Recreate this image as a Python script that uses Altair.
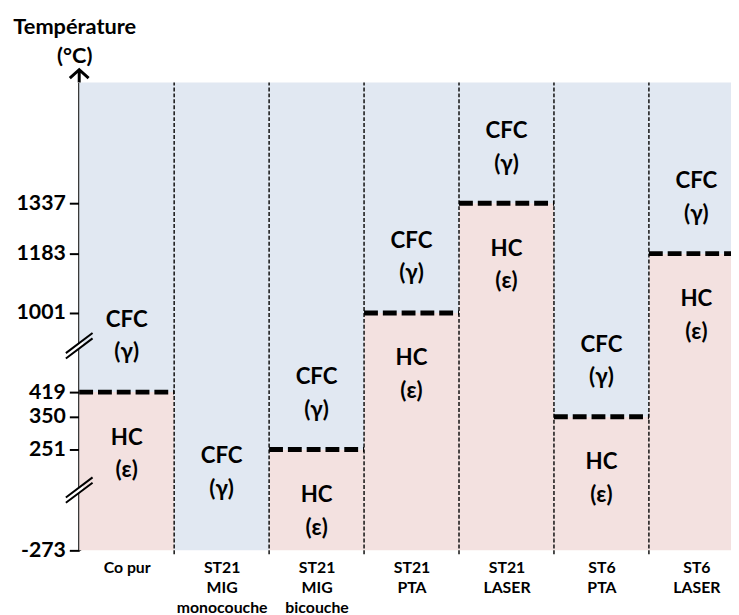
import json
import altair as alt
import pandas as pd

# ---------------- data ----------------
CATEGORIES = ["Co pur", "ST21\nMIG\nmonocouche", "ST21\nMIG\nbicouche",
              "ST21\nPTA", "ST21\nLASER", "ST6\nPTA", "ST6\nLASER"]
# HC (epsilon) -> CFC (gamma) transition temperature, -273 = CFC only
TRANSITION = [419, -273, 251, 1001, 1337, 350, 1183]
Y_TICKS = [-273, 251, 350, 419, 1001, 1183, 1337]
AXIS_BREAKS = [40, 760]
T_MIN = -273
T_TOP = 1720
LOW_LABEL = "HC\n(ε)"
HIGH_LABEL = "CFC\n(γ)"

# ---------------- layout / style ----------------
W, H = 659, 473
BAND = 96
Y_RANGE = [473, 371, 338, 313, 233, 173, 122, 0]   # broken (piecewise) axis
BLUE = "#E1E8F2"
PINK = "#F3E1E0"
FONT = "Lato"

df = pd.DataFrame({"idx": list(range(len(CATEGORIES))), "cat": CATEGORIES, "t": TRANSITION})
df["idx2"] = df["idx"] + 1
df["mid"] = df["idx"] + 0.5
df["tmin"] = T_MIN
df["ttop"] = T_TOP
df["hi"] = HIGH_LABEL
df["lo"] = LOW_LABEL

xs = alt.Scale(domain=[0, W / BAND], nice=False, zero=False)
ys = alt.Scale(domain=Y_TICKS + [T_TOP], range=Y_RANGE, nice=False, zero=False)

label_expr = "split(" + json.dumps(CATEGORIES) + "[floor(datum.value)], '\\n')"
xaxis = alt.Axis(values=[i + 0.5 for i in range(len(CATEGORIES))], labelExpr=label_expr,
                 domain=False, ticks=False, grid=False, title=None,
                 labelFont=FONT, labelFontWeight="bold", labelFontSize=16,
                 labelLineHeight=20.5, labelPadding=9, labelColor="black",
                 labelBaseline="top", labelAngle=0, labelOverlap=False, labelFlush=False)
yaxis = alt.Axis(values=Y_TICKS, labelExpr="'' + datum.value", grid=False,
                 domainColor="black", domainWidth=3,
                 tickColor="black", tickWidth=2, tickSize=10,
                 labelFont=FONT, labelFontWeight="bold", labelFontSize=21.5,
                 labelColor="black", labelPadding=4, labelOverlap=False, labelFlush=False,
                 title=["Température", "(°C)"], titleAngle=0, titleFont=FONT,
                 titleFontWeight="bold", titleFontSize=22, titleColor="black",
                 titleAlign="center", titleBaseline="alphabetic",
                 titleX=-5, titleY=-50, titleLineHeight=30)


def X(field):
    return alt.X(field, scale=xs, axis=xaxis)


def Y(field):
    return alt.Y(field, scale=ys, axis=yaxis)


base = alt.Chart(df)

pink = base.mark_rect(color=PINK).encode(x=X("idx:Q"), x2="idx2:Q", y=Y("tmin:Q"), y2="t:Q")
blue = base.mark_rect(color=BLUE).encode(x=X("idx:Q"), x2="idx2:Q", y=Y("t:Q"), y2="ttop:Q")

seps = base.mark_rule(color="#111111", strokeWidth=1.5, strokeDash=[4, 2], yOffset=4).encode(
    x=X("idx2:Q"), y=Y("tmin:Q"), y2="ttop:Q")

bounds = base.transform_filter(alt.datum.t > T_MIN).mark_rule(
    color="black", strokeWidth=5, strokeDash=[14, 5]).encode(
    x=X("idx:Q"), x2="idx2:Q", y=Y("t:Q"))

txt = dict(lineBreak="\n", font=FONT, fontWeight="bold", fontSize=22.5, lineHeight=33,
           baseline="middle", align="center", color="black")
hi_lbl = base.transform_filter(alt.datum.t > T_MIN).mark_text(yOffset=-73, **txt).encode(
    x=X("mid:Q"), y=Y("t:Q"), text="hi:N")
only_lbl = base.transform_filter(alt.datum.t <= T_MIN).mark_text(yOffset=-95, **txt).encode(
    x=X("mid:Q"), y=Y("t:Q"), text="hi:N")
lo_lbl = base.transform_filter(alt.datum.t > T_MIN).mark_text(yOffset=46, **txt).encode(
    x=X("mid:Q"), y=Y("t:Q"), text="lo:N")

# axis breaks and arrow head
brk_df = pd.DataFrame({"x": [0] * len(AXIS_BREAKS), "t": AXIS_BREAKS})
FILL_PATH = "M -0.3 0.05 L 0.3 -0.40 L 0.3 -0.05 L -0.3 0.40 Z"
SLASH_PATH = "M -1 0.55 L 1 -0.95 M -1 0.95 L 1 -0.55"
brk_fill = alt.Chart(brk_df).mark_point(shape=FILL_PATH, filled=True, color="white",
                                        size=729, opacity=1, strokeWidth=0).encode(
    x=X("x:Q"), y=Y("t:Q"))
brk_line = alt.Chart(brk_df).mark_point(shape=SLASH_PATH, filled=False, color="black",
                                        size=729, opacity=1, strokeWidth=2).encode(
    x=X("x:Q"), y=Y("t:Q"))

arrow_df = pd.DataFrame({"x": [0], "t": [T_TOP]})
ARROW_PATH = "M -0.95 -0.45 L 0 -1.3 L 0.95 -0.45 M 0 -1.3 L 0 0"
arrow = alt.Chart(arrow_df).mark_point(shape=ARROW_PATH, filled=False, color="black",
                                       size=400, opacity=1, strokeWidth=3,
                                       strokeJoin="miter").encode(
    x=X("x:Q"), y=Y("t:Q"))

chart = alt.layer(pink, blue, seps, bounds, hi_lbl, only_lbl, lo_lbl,
                  brk_fill, brk_line, arrow).properties(
    width=W, height=H,
    autosize=alt.AutoSizeParams(type="none"),
    padding={"left": 72, "top": 72, "right": 0, "bottom": 62},
).configure_view(stroke=None)

chart.save("out.html", embed_options={"renderer": "svg", "actions": False})
